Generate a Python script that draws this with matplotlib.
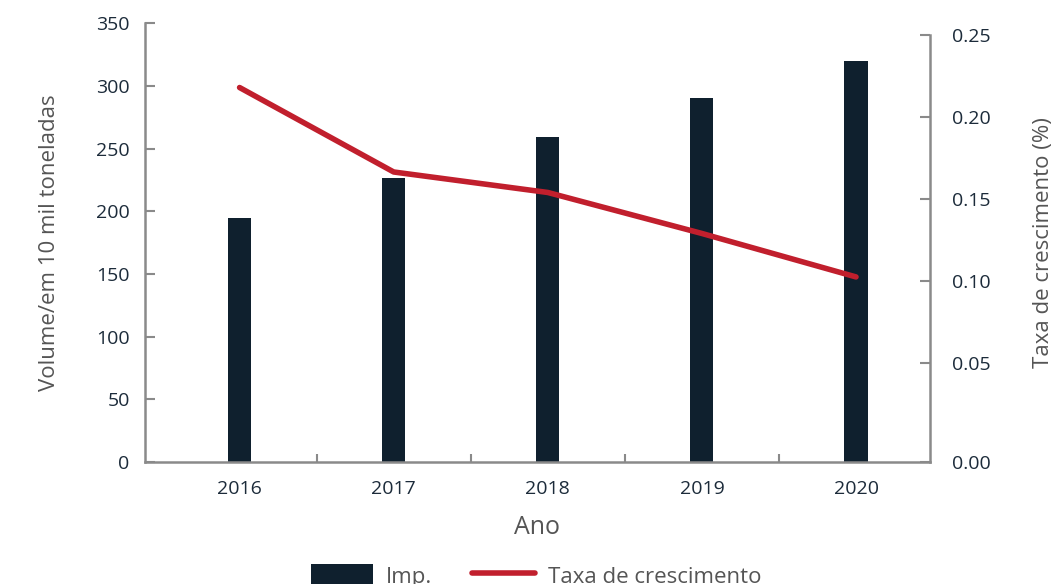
import matplotlib
matplotlib.use("Agg")
import matplotlib.pyplot as plt
import numpy as np

anos = ["2016", "2017", "2018", "2019", "2020"]
volume = [195, 227, 259.5, 290.5, 320]
taxa = [0.218, 0.1665, 0.154, 0.129, 0.1025]
taxa_ticks = [0.05, 0.10, 0.15, 0.20, 0.25]

cor_barra = "#0f202e"
cor_linha = "#c11f2d"
cor_eixo = "#8a8a8a"
cor_texto = "#1c2b3a"
cor_rotulo = "#555555"

plt.rcParams["font.family"] = ["Open Sans", "DejaVu Sans"]

fig = plt.figure(figsize=(10.55, 5.84), dpi=100)
ax = fig.add_axes([0.1374, 0.2089, 0.8815 - 0.1374, 0.960 - 0.2089])
ax2 = ax.twinx()

x = np.arange(len(anos))
b = ax.bar(x, volume, width=0.15, color=cor_barra, label="Imp.", zorder=2)
l, = ax2.plot(x, taxa, color=cor_linha, linewidth=4, solid_capstyle="round",
              label="Taxa de crescimento", zorder=3)

ax.set_xlim(-0.614, 4.48)
ax.set_ylim(0, 350)
ax.set_yticks(range(0, 351, 50))
ax.set_xticks(x)
ax.set_xticklabels(anos)
ax.set_xticks(x[:-1] + 0.5, minor=True)

# eixo direito
baixo = 0.25 - 427 / 1640
topo = 0.25 + 11.7 / 1640
ax2.set_ylim(baixo, topo)
ax2.set_yticks([baixo] + taxa_ticks)
ax2.set_yticklabels(["0.00"] + ["%.2f" % t for t in taxa_ticks])

for a in (ax, ax2):
    a.spines["top"].set_visible(False)
    for s in ("left", "right", "bottom"):
        a.spines[s].set_color(cor_eixo)
        a.spines[s].set_linewidth(1.8)

ax.spines["right"].set_visible(False)
ax2.spines["left"].set_visible(False)
ax2.spines["bottom"].set_visible(False)
ax2.spines["right"].set_bounds(baixo, 0.25)

ax.tick_params(axis="y", direction="in", length=7, width=1.5, color=cor_eixo,
               labelsize=14, labelcolor=cor_texto, pad=11)
ax.tick_params(axis="x", which="major", length=0, labelsize=14,
               labelcolor=cor_texto, pad=13)
ax.tick_params(axis="x", which="minor", direction="in", length=6, width=1.5,
               color=cor_eixo)
ax2.tick_params(axis="y", direction="in", length=7, width=1.5, color=cor_eixo,
                labelsize=14, labelcolor=cor_texto, pad=16)

ax.set_xlabel("Ano", fontsize=18, color=cor_rotulo, labelpad=12)
ax.set_ylabel("Volume/em 10 mil toneladas", fontsize=16, color=cor_rotulo,
              labelpad=26)
ax2.set_ylabel("Taxa de crescimento (%)", fontsize=16, color=cor_rotulo,
               labelpad=30, rotation=90)

fig.legend([b, l], ["Imp.", "Taxa de crescimento"], loc="center",
           bbox_to_anchor=(0.508, 0.014), ncol=2, frameon=False, fontsize=16,
           handlelength=2.8, handleheight=1.2, columnspacing=1.8,
           handletextpad=0.6, labelcolor="#555555")

fig.savefig("out.png", dpi=100)
